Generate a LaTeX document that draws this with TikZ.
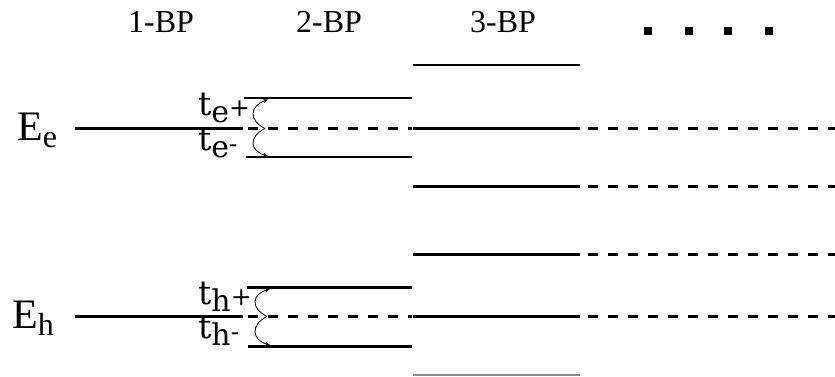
\documentclass[tikz,border=0pt]{standalone}
\usepackage{fontspec}
\setmainfont{DejaVu Serif}
\newfontfamily\lsfont{Liberation Serif}
\usetikzlibrary{arrows.meta}
\tikzset{
  lvl/.style={line width=2.8pt},
  dlvl/.style={line width=2.8pt, dash pattern=on 10pt off 10pt},
  hop/.style={line width=0.8pt, -{Stealth[length=5pt,width=4pt]}},
  hdr/.style={anchor=base, inner sep=0pt, font=\lsfont\fontsize{32}{32}\selectfont},
  lab/.style={anchor=base west, inner sep=0pt},
  sq/.style={fill=black, minimum size=8pt, inner sep=0pt}
}
\newcommand{\tlab}[3]{{\fontsize{33}{33}\selectfont t}\raisebox{-7pt}{\fontsize{30}{30}\selectfont #2}\raisebox{#3}{\fontsize{25}{25}\selectfont #1}}
\newcommand{\elab}[1]{{\lsfont\fontsize{42}{42}\selectfont E\raisebox{-7pt}{\fontsize{32}{32}\selectfont #1}}}
\begin{document}
\begin{tikzpicture}[x=1pt,y=-1pt]
\useasboundingbox (0,0) rectangle (835,376);
% headers
\node[hdr] (h1) at (161,32) {1-BP};
\node[hdr] (h2) at (329,32) {2-BP};
\node[hdr] (h3) at (503,32) {3-BP};
\node[sq] (s1) at (647.5,31) {};
\node[sq] (s2) at (689,31) {};
\node[sq] (s3) at (727.5,31) {};
\node[sq] (s4) at (769,31) {};
% energy labels
\node[lab] (Ee) at (17,140) {\elab{e}};
\node[lab] (Eh) at (12,328) {\elab{h}};
% coordinates for electron levels
\coordinate (e1a) at (75,128.5);  \coordinate (e1b) at (243,128.5);
\coordinate (e2ua) at (244,98);   \coordinate (e2ub) at (412,98);
\coordinate (e2la) at (246,157);  \coordinate (e2lb) at (412,157);
\coordinate (e2ma) at (246,128.5);\coordinate (e2mb) at (412,128.5);
\coordinate (e3a) at (413,65);    \coordinate (e3b) at (580,65);
\coordinate (e3ma) at (413,128.5);\coordinate (e3mb) at (580,128.5);
\coordinate (e3la) at (413,186.5);\coordinate (e3lb) at (580,186.5);
\coordinate (ee1) at (835,128.5); \coordinate (ee2) at (835,186.5);
% hole levels
\coordinate (h1a) at (75,316.5);  \coordinate (h1b) at (243,316.5);
\coordinate (h2ua) at (247,287.5);\coordinate (h2ub) at (412,287.5);
\coordinate (h2la) at (248,346.5);\coordinate (h2lb) at (412,346.5);
\coordinate (h2ma) at (246,316.5);\coordinate (h2mb) at (412,316.5);
\coordinate (h3ua) at (413,254.5);\coordinate (h3ub) at (580,254.5);
\coordinate (h3ma) at (413,316.5);\coordinate (h3mb) at (580,316.5);
\coordinate (h3la) at (413,375);  \coordinate (h3lb) at (580,375);
\coordinate (hh1) at (835,254.5); \coordinate (hh2) at (835,316.5);
% electron lines
\draw[lvl] (e1a) -- (e1b);
\draw[lvl] (e2ua) -- (e2ub);
\draw[lvl] (e2la) -- (e2lb);
\draw[dlvl, dash phase=-2pt] (e2ma) -- (e2mb);
\draw[lvl] (e3a) -- (e3b);
\draw[lvl] (e3ma) -- (e3mb);
\draw[lvl] (e3la) -- (e3lb);
\draw[dlvl, dash phase=12pt] (e3mb) -- (ee1);
\draw[dlvl, dash phase=12pt] (e3lb) -- (ee2);
% hole lines
\draw[lvl] (h1a) -- (h1b);
\draw[lvl] (h2ua) -- (h2ub);
\draw[lvl] (h2la) -- (h2lb);
\draw[dlvl, dash phase=-2pt] (h2ma) -- (h2mb);
\draw[lvl] (h3ua) -- (h3ub);
\draw[lvl] (h3ma) -- (h3mb);
\draw[line width=1.5pt, black!45] (h3la) -- (h3lb);
\draw[dlvl, dash phase=12pt] (h3ub) -- (hh1);
\draw[dlvl, dash phase=12pt] (h3mb) -- (hh2);
% hopping arrows
\coordinate (ce) at (265,128.5);
\coordinate (ceu) at (268,99.5);
\coordinate (cel) at (268,156);
\draw[hop] (ce) .. controls (248,120) and (250,106) .. (ceu);
\draw[hop] (ce) .. controls (248,137) and (250,151) .. (cel);
\coordinate (ch) at (267,316.5);
\coordinate (chu) at (270,289);
\coordinate (chl) at (270,345);
\draw[hop] (ch) .. controls (250,308) and (252,294) .. (chu);
\draw[hop] (ch) .. controls (250,325) and (252,340) .. (chl);
% hopping labels
\node[lab] (te1) at (198,115) {\tlab{+}{e}{-1pt}};
\node[lab] (te2) at (198,150) {\tlab{-}{e}{-2pt}};
\node[lab] (th1) at (198,304) {\tlab{+}{h}{-1pt}};
\node[lab] (th2) at (198,338) {\tlab{-}{h}{-2pt}};
\end{tikzpicture}
\end{document}
